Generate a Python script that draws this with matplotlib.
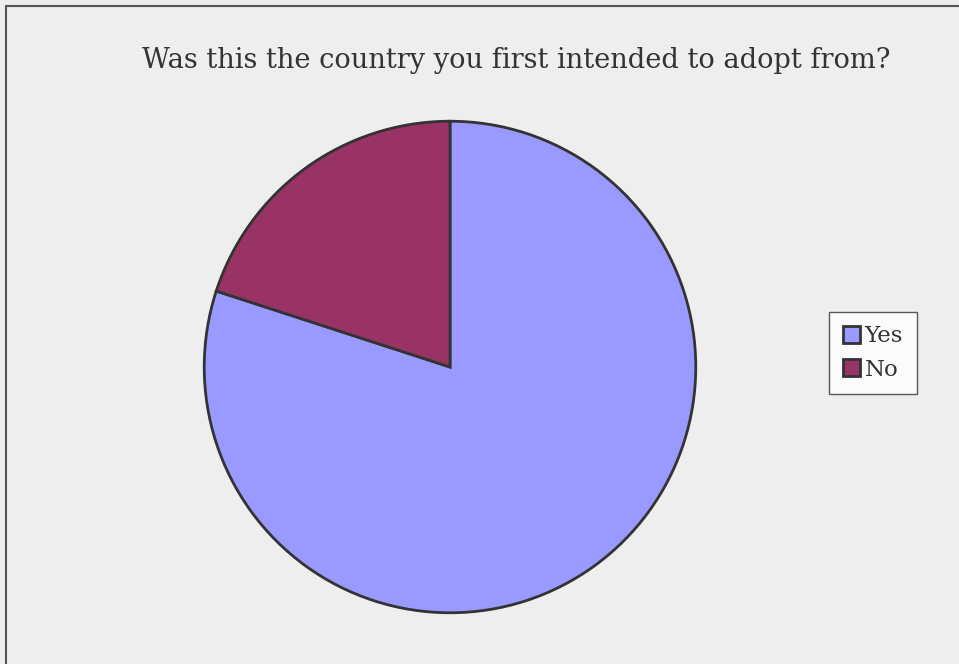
import matplotlib
matplotlib.use("Agg")
import matplotlib.pyplot as plt
from matplotlib.patches import Rectangle

# data
labels = ['Yes', 'No']
values = [80, 20]
colors = ['#9999FF', '#993366']
title = 'Was this the country you first intended to adopt from?'

plt.rcParams['font.family'] = ['DejaVu Serif']

fig = plt.figure(figsize=(9.59, 6.64), dpi=100, facecolor='#EEEEEE')

# frame around the chart area (only top/left visible in original)
fig.add_artist(Rectangle((6 / 959, -0.01), 1.02, 1 - 6 / 664 + 0.01,
                         transform=fig.transFigure, facecolor='none',
                         edgecolor='#555555', lw=1.5))

ax = fig.add_axes([203 / 959, 1 - 614 / 664, 494 / 959, 494 / 664])
ax.set_facecolor('none')
wedges, _ = ax.pie(values, colors=colors, startangle=90, counterclock=False,
                   radius=1, wedgeprops=dict(edgecolor='#333333', linewidth=2))
ax.set_xlim(-1.005, 1.005)
ax.set_ylim(-1.005, 1.005)
ax.set_aspect('equal')

fig.text(516 / 959, 1 - 60 / 664, title, ha='center', va='center',
         fontsize=19.6, color='#333333')

leg = fig.legend(wedges, labels, loc='center', bbox_to_anchor=(873 / 959, 1 - 353 / 664),
                 frameon=True, fancybox=False, edgecolor='#333333', facecolor='white',
                 fontsize=16.5, handlelength=0.75, handleheight=0.75, handletextpad=0.2,
                 labelspacing=0.5, borderpad=0.6, borderaxespad=0)
leg.get_frame().set_linewidth(1)
for t in leg.get_texts():
    t.set_color('#333333')

fig.savefig('out.png', dpi=100, facecolor=fig.get_facecolor())
